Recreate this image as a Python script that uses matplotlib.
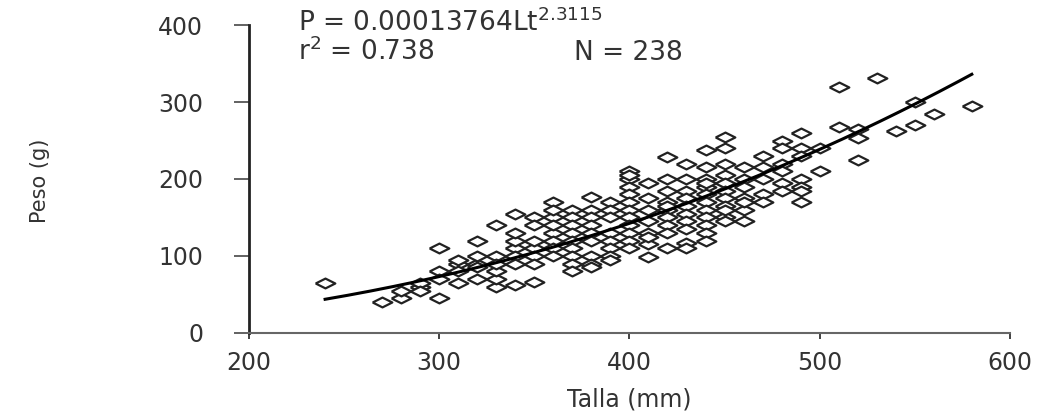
import numpy as np
import matplotlib
matplotlib.use("Agg")
import matplotlib.pyplot as plt

# -----------------------------------
# Datos
# -----------------------------------
tallas = [240, 270, 280, 290, 300, 310, 320, 330, 340, 350, 360, 370, 380, 390,
          400, 410, 420, 430, 440, 450, 460, 470, 480, 490, 500, 510, 520, 530,
          540, 550, 560, 580]

pesos_por_talla = [
    [65],
    [40],
    [45, 55],
    [60, 65, 55],
    [45, 110, 80, 70],
    [65, 90, 80, 95],
    [120, 90, 85, 70, 100],
    [140, 100, 60, 70, 80, 90],
    [155, 62, 110, 100, 90, 120, 130],
    [150, 66, 140, 110, 100, 90, 120],
    [170, 150, 130, 120, 110, 100, 140, 160],
    [160, 150, 140, 130, 120, 110, 100, 90, 80],
    [177, 160, 150, 140, 130, 120, 100, 90, 85],
    [170, 160, 150, 130, 120, 110, 100, 95],
    [210, 200, 190, 180, 170, 160, 150, 140, 130, 120, 110, 205],
    [195, 175, 160, 145, 130, 115, 99, 125],
    [229, 200, 185, 170, 160, 150, 140, 130, 110, 165],
    [220, 200, 185, 175, 165, 155, 145, 135, 117, 110],
    [238, 215, 200, 190, 180, 170, 160, 150, 140, 130, 120, 195],
    [255, 240, 220, 205, 195, 185, 175, 165, 150, 160, 145],
    [215, 200, 190, 175, 160, 145, 170],
    [230, 215, 200, 180, 170],
    [250, 240, 220, 210, 195, 185],
    [260, 240, 230, 200, 190, 170, 185],
    [240, 210],
    [319, 268],
    [265, 225, 253],
    [331],
    [263],
    [300, 270],
    [285],
    [295],
]

a_coef = 0.00013764
b_exp = 2.3115
talla_min, talla_max = 240, 580

talla = []
peso = []
for t, lista in zip(tallas, pesos_por_talla):
    for p in lista:
        talla.append(t)
        peso.append(p)

# -----------------------------------
# Grafico
# -----------------------------------
plt.rcParams['font.family'] = ['DejaVu Sans']
fig = plt.figure(figsize=(10.53, 4.11), dpi=100)
ax = fig.add_axes([0.2365, 0.19, 0.7225, 0.749])

# rombo aplanado (imagen original estirada en horizontal)
rombo = [(-1, 0), (0, 0.5), (1, 0), (0, -0.5), (-1, 0)]
ax.scatter(talla, peso, marker=rombo, s=200, facecolors='white',
           edgecolors='#222222', linewidths=1.6, zorder=2)

x_fit = np.linspace(talla_min, talla_max, 200)
ax.plot(x_fit, a_coef * x_fit ** b_exp, color='black', lw=2.2, zorder=3)

ax.set_xlim(200, 600)
ax.set_ylim(0, 400)
ax.set_xticks([200, 300, 400, 500, 600])
ax.set_yticks([0, 100, 200, 300, 400])

ax.spines['top'].set_visible(False)
ax.spines['right'].set_visible(False)
ax.spines['left'].set_color('#222222')
ax.spines['left'].set_linewidth(2.0)
ax.spines['bottom'].set_color('#666666')
ax.spines['bottom'].set_linewidth(1.5)

ax.tick_params(axis='y', direction='out', length=11, width=1.3, color='#555555',
               pad=22, labelsize=17, labelcolor='#333333')
ax.tick_params(axis='x', direction='out', length=4, width=1.3, color='#333333',
               pad=9, labelsize=17, labelcolor='#333333')

ax.set_xlabel("Talla (mm)", fontsize=17, color='#333333', labelpad=9)
fig.text(0.038, 0.56, "Peso (g)", rotation=90, fontsize=15, color='#333333',
         ha='center', va='center')

fig.text(0.283, 0.925, r"P = 0.00013764Lt$^{2.3115}$", fontsize=19, color='#333333',
         ha='left', va='baseline')
fig.text(0.283, 0.855, r"r$^{2}$ = 0.738", fontsize=19, color='#333333',
         ha='left', va='baseline')
fig.text(0.545, 0.855, "N = 238", fontsize=19, color='#333333',
         ha='left', va='baseline')

plt.savefig("out.png", dpi=100)
plt.close()
